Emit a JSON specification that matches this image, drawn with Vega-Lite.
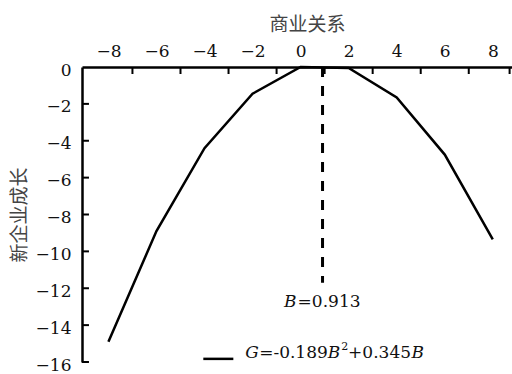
{
  "$schema": "https://vega.github.io/schema/vega-lite/v6.json",
  "width": 430,
  "height": 295,
  "autosize": "none",
  "padding": {"left": 82, "top": 67, "right": 0, "bottom": 12},
  "background": "white",
  "config": {
    "view": {"stroke": null},
    "axis": {
      "domainColor": "black",
      "domainWidth": 2.5,
      "grid": false,
      "labelFont": "DejaVu Serif",
      "labelFontSize": 17,
      "labelColor": "#111",
      "labelOverlap": false,
      "titleFont": "Noto Sans CJK SC",
      "titleFontSize": 19,
      "titleFontWeight": "normal",
      "titleColor": "#444"
    }
  },
  "resolve": {"axis": {"x": "independent", "y": "independent"}},
  "datasets": {
    "curve": [
      {"B": -8, "G": -14.9},
      {"B": -6, "G": -8.9},
      {"B": -4, "G": -4.4},
      {"B": -2, "G": -1.45},
      {"B": 0, "G": 0},
      {"B": 2, "G": -0.05},
      {"B": 4, "G": -1.65},
      {"B": 6, "G": -4.75},
      {"B": 8, "G": -9.35}
    ],
    "xticks": [{"B": -7}, {"B": -5}, {"B": -3}, {"B": -1}, {"B": 1}, {"B": 3}, {"B": 5}, {"B": 7}, {"B": 8.7}],
    "yticks": [{"G": -2}, {"G": -4}, {"G": -6}, {"G": -8}, {"G": -10}, {"G": -12}, {"G": -14}, {"G": -16}],
    "peak": [{"B": 0.913, "G": 0, "G2": -11.7}],
    "legendline": [{"B": -4.05, "B2": -2.8, "G": -15.83}],
    "italic": [
      {"B": -0.686, "G": -12.74, "t": "B"},
      {"B": -2.307, "G": -15.5, "t": "G"},
      {"B": 1.126, "G": -15.5, "t": "B"},
      {"B": 4.613, "G": -15.5, "t": "B"}
    ],
    "roman": [
      {"B": -0.125, "G": -12.74, "t": "=0.913"},
      {"B": -1.725, "G": -15.5, "t": "=-0.189"},
      {"B": 1.978, "G": -15.5, "t": "+0.345"}
    ],
    "sup": [{"B": 1.687, "G": -15.2, "t": "2"}]
  },
  "layer": [
    {
      "data": {"name": "curve"},
      "mark": {"type": "line", "color": "black", "strokeWidth": 2.5},
      "encoding": {
        "x": {
          "field": "B", "type": "quantitative",
          "scale": {"domain": [-9.1, 8.8], "nice": false, "zero": false},
          "axis": {
            "orient": "top",
            "title": "商业关系",
            "values": [-8, -6, -4, -2, 0, 2, 4, 6, 8],
            "ticks": false,
            "labelPadding": 7,
            "labelOverlap": false,
            "titlePadding": 8,
            "titleX": 225
          }
        },
        "y": {
          "field": "G", "type": "quantitative",
          "scale": {"domain": [-16, 0], "nice": false, "zero": false},
          "axis": {
            "orient": "left",
            "title": "新企业成长",
            "values": [0, -2, -4, -6, -8, -10, -12, -14, -16],
            "ticks": false,
            "labelPadding": 11,
            "labelOffset": 3,
            "labelOverlap": false,
            "titlePadding": 6
          }
        }
      }
    },
    {
      "data": {"name": "xticks"},
      "mark": {"type": "rule", "color": "black", "strokeWidth": 2},
      "encoding": {
        "x": {"field": "B", "type": "quantitative", "axis": null},
        "y": {"datum": 0, "type": "quantitative", "axis": null},
        "y2": {"datum": -0.38}
      }
    },
    {
      "data": {"name": "yticks"},
      "mark": {"type": "rule", "color": "black", "strokeWidth": 2},
      "encoding": {
        "y": {"field": "G", "type": "quantitative", "axis": null},
        "x": {"datum": -9.1, "type": "quantitative", "axis": null},
        "x2": {"datum": -8.81}
      }
    },
    {
      "data": {"name": "peak"},
      "mark": {"type": "rule", "color": "black", "strokeWidth": 3, "strokeDash": [10, 9]},
      "encoding": {
        "x": {"field": "B", "type": "quantitative", "axis": null},
        "y": {"field": "G", "type": "quantitative", "axis": null},
        "y2": {"field": "G2"}
      }
    },
    {
      "data": {"name": "legendline"},
      "mark": {"type": "rule", "color": "black", "strokeWidth": 2.5},
      "encoding": {
        "x": {"field": "B", "type": "quantitative", "axis": null},
        "x2": {"field": "B2"},
        "y": {"field": "G", "type": "quantitative", "axis": null}
      }
    },
    {
      "data": {"name": "italic"},
      "mark": {"type": "text", "font": "DejaVu Serif", "fontStyle": "italic", "fontSize": 17, "align": "left", "baseline": "middle", "color": "#111"},
      "encoding": {
        "x": {"field": "B", "type": "quantitative", "axis": null},
        "y": {"field": "G", "type": "quantitative", "axis": null},
        "text": {"field": "t"}
      }
    },
    {
      "data": {"name": "roman"},
      "mark": {"type": "text", "font": "DejaVu Serif", "fontSize": 17, "align": "left", "baseline": "middle", "color": "#111"},
      "encoding": {
        "x": {"field": "B", "type": "quantitative", "axis": null},
        "y": {"field": "G", "type": "quantitative", "axis": null},
        "text": {"field": "t"}
      }
    },
    {
      "data": {"name": "sup"},
      "mark": {"type": "text", "font": "DejaVu Serif", "fontSize": 11, "align": "left", "baseline": "middle", "color": "#111"},
      "encoding": {
        "x": {"field": "B", "type": "quantitative", "axis": null},
        "y": {"field": "G", "type": "quantitative", "axis": null},
        "text": {"field": "t"}
      }
    }
  ]
}
